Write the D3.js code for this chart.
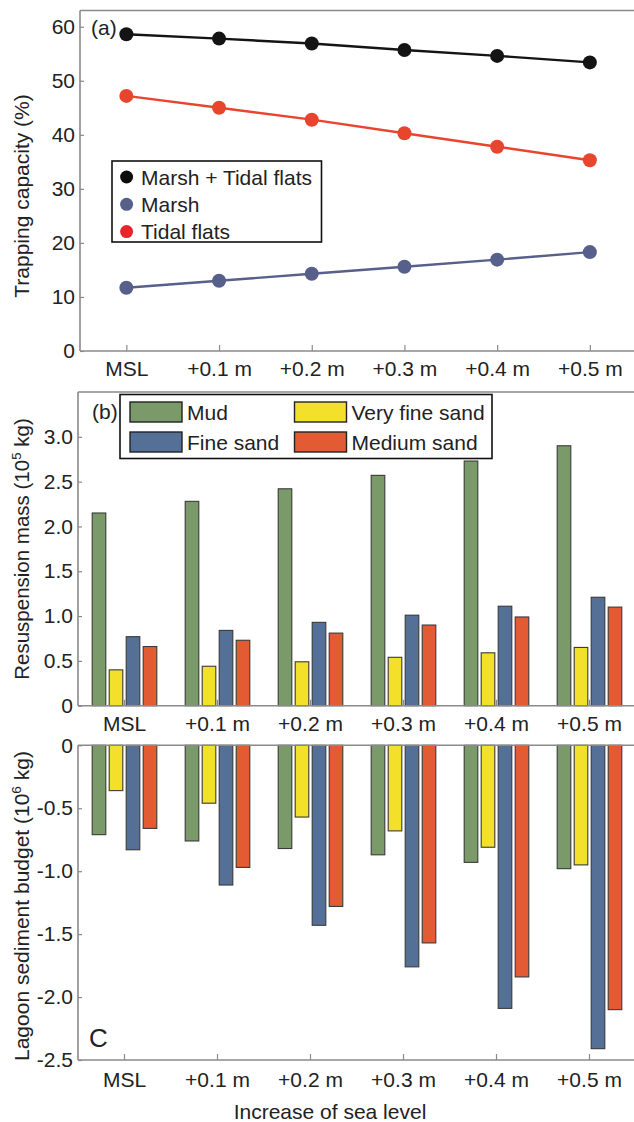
<!DOCTYPE html>
<html>
<head>
<meta charset="utf-8">
<script src="https://cdn.jsdelivr.net/npm/d3@7"></script>
<style>
    body { margin: 0; background: #fff; }
    svg text { font-family: "Liberation Sans", Arial, sans-serif; fill: #222; }
</style>
</head>
<body>
<div id="chart"></div>
<script>
const levels = ["MSL", "+0.1 m", "+0.2 m", "+0.3 m", "+0.4 m", "+0.5 m"];

// (a) trapping capacity, %
const marshTidal = [58.6, 57.8, 56.9, 55.7, 54.6, 53.4];
const marsh = [11.7, 13.0, 14.3, 15.6, 16.9, 18.3];
const tidalFlats = [47.2, 45.0, 42.8, 40.3, 37.8, 35.3];
const capacityTicks = [0, 10, 20, 30, 40, 50, 60];

// (b) resuspension mass, 10^5 kg
const sediments = ["Mud", "Very fine sand", "Fine sand", "Medium sand"];
const resusMud = [2.15, 2.28, 2.42, 2.57, 2.73, 2.90];
const resusVeryFine = [0.40, 0.44, 0.49, 0.54, 0.59, 0.65];
const resusFine = [0.77, 0.84, 0.93, 1.01, 1.11, 1.21];
const resusMedium = [0.66, 0.73, 0.81, 0.90, 0.99, 1.10];
const resusTicks = [0, 0.5, 1.0, 1.5, 2.0, 2.5, 3.0];

// (c) lagoon sediment budget, 10^6 kg
const budgetMud = [-0.71, -0.76, -0.82, -0.87, -0.93, -0.98];
const budgetVeryFine = [-0.36, -0.46, -0.57, -0.68, -0.81, -0.95];
const budgetFine = [-0.83, -1.11, -1.43, -1.76, -2.09, -2.41];
const budgetMedium = [-0.66, -0.97, -1.28, -1.57, -1.84, -2.10];
const budgetTicks = [0, -0.5, -1.0, -1.5, -2.0, -2.5];

const width = 634;
const height = 1122;
const axisColor = "#8a8a8a";
const sedColors = ["#7a9b69", "#f3e02b", "#557097", "#e35b32"];

const svg = d3.select("#chart")
    .append("svg")
    .attr("width", width)
    .attr("height", height);

function styleAxis(g) {
    g.select(".domain").remove();
    g.selectAll(".tick line").attr("stroke", axisColor).attr("stroke-width", 1.2);
    g.selectAll(".tick text").attr("font-size", 21).attr("fill", "#222");
}

function frameLine(x1, y1, x2, y2) {
    svg.append("line")
        .attr("x1", x1).attr("y1", y1).attr("x2", x2).attr("y2", y2)
        .attr("stroke", axisColor)
        .attr("stroke-width", 1.6);
}

function yTitle(x, y, size, main, sup, tail) {
    const t = svg.append("text")
        .attr("transform", `translate(${x},${y}) rotate(-90)`)
        .attr("text-anchor", "middle")
        .attr("font-size", size)
        .text(main);
    if (sup) {
        t.append("tspan").attr("font-size", size * 0.65).attr("dy", -size * 0.4).text(sup);
        t.append("tspan").attr("dy", size * 0.4).text(tail);
    }
}

const tickFmt = d => d === 0 ? "0" : d.toFixed(1);

// ---------- panel (a) ----------
const ax0 = 80, aTop = 10.5, aBottom = 351;
const xA = d3.scalePoint()
    .domain(levels)
    .range([ax0, ax0 + 6 * 92.7])
    .padding(0.5);
const yA = d3.scaleLinear().domain([0, 63]).range([aBottom, aTop]);

svg.append("g")
    .attr("transform", `translate(0,${aBottom})`)
    .call(d3.axisBottom(xA).tickSize(-6).tickPadding(10))
    .call(styleAxis);
svg.append("g")
    .attr("transform", `translate(${ax0},0)`)
    .call(d3.axisLeft(yA).tickValues(capacityTicks).tickSize(-4).tickPadding(5))
    .call(styleAxis);

frameLine(ax0, aTop, width, aTop);
frameLine(ax0, aTop, ax0, aBottom);
frameLine(ax0, aBottom, width, aBottom);

const capSeries = [
    { name: "Marsh + Tidal flats", values: marshTidal, color: "#141414", key: "#0d0d0d" },
    { name: "Marsh", values: marsh, color: "#56608a", key: "#56608a" },
    { name: "Tidal flats", values: tidalFlats, color: "#e8452f", key: "#e8262a" }
];

const line = d3.line()
    .x((d, i) => xA(levels[i]))
    .y(d => yA(d));

capSeries.forEach(s => {
    svg.append("path")
        .attr("d", line(s.values))
        .attr("fill", "none")
        .attr("stroke", s.color)
        .attr("stroke-width", 2.4);
    svg.selectAll(null)
        .data(s.values)
        .enter()
        .append("circle")
        .attr("cx", (d, i) => xA(levels[i]))
        .attr("cy", d => yA(d))
        .attr("r", 7)
        .attr("fill", s.color);
});

svg.append("text")
    .attr("x", 91).attr("y", 35)
    .attr("font-size", 21)
    .text("(a)");

// legend (a)
const legA = svg.append("g").attr("transform", "translate(112,161)");
legA.append("rect")
    .attr("width", 209.5).attr("height", 81)
    .attr("fill", "#fff").attr("stroke", "#111").attr("stroke-width", 1.6);
capSeries.forEach((s, i) => {
    const ly = 16 + i * 27.3;
    legA.append("circle").attr("cx", 14.6).attr("cy", ly).attr("r", 6.5).attr("fill", s.key);
    legA.append("text").attr("x", 29).attr("y", ly + 7.5).attr("font-size", 21).text(s.name);
});

yTitle(29, 196, 21, "Trapping capacity (%)");

// ---------- shared band scales for (b) and (c) ----------
const bx0 = 78, step = 93;
const xB = d3.scaleBand().domain(levels).range([bx0, bx0 + 6 * step]);
const xSub = d3.scaleBand().domain(sediments).range([-34, 34]).paddingInner(0.2).paddingOuter(0.1);

function drawBars(series, yScale) {
    const rows = [];
    levels.forEach((lv, i) => {
        series.forEach((vals, j) => rows.push({ level: lv, sed: sediments[j], value: vals[i], k: j }));
    });
    svg.append("g")
        .selectAll("rect")
        .data(rows)
        .enter()
        .append("rect")
        .attr("x", d => xB(d.level) + xB.bandwidth() / 2 + xSub(d.sed))
        .attr("y", d => Math.min(yScale(d.value), yScale(0)))
        .attr("width", xSub.bandwidth())
        .attr("height", d => Math.abs(yScale(d.value) - yScale(0)))
        .attr("fill", d => sedColors[d.k])
        .attr("stroke", "#3a3a3a")
        .attr("stroke-width", 1.1);
}

// ---------- panel (b) ----------
const bTop = 392, bBottom = 705.7;
const yB = d3.scaleLinear().domain([0, 3.5]).range([bBottom, bTop]);

svg.append("g")
    .attr("transform", `translate(0,${bBottom})`)
    .call(d3.axisBottom(xB).tickSize(-6).tickPadding(10))
    .call(styleAxis);
svg.append("g")
    .attr("transform", `translate(${bx0},0)`)
    .call(d3.axisLeft(yB).tickValues(resusTicks).tickFormat(tickFmt).tickSize(-4).tickPadding(5))
    .call(styleAxis);

drawBars([resusMud, resusVeryFine, resusFine, resusMedium], yB);

frameLine(bx0, bTop, width, bTop);
frameLine(bx0, bTop, bx0, bBottom);
frameLine(bx0, bBottom, width, bBottom);

svg.append("text")
    .attr("x", 92).attr("y", 419)
    .attr("font-size", 21)
    .text("(b)");

// legend (b)
const legB = svg.append("g").attr("transform", "translate(120,394.5)");
legB.append("rect")
    .attr("width", 372).attr("height", 64)
    .attr("fill", "#fff").attr("stroke", "#111").attr("stroke-width", 1.6);
sediments.forEach((s, i) => {
    const col = i % 2, row = Math.floor(i / 2);
    const lx = 10 + col * 164.5;
    const ly = 7.5 + row * 30;
    legB.append("rect")
        .attr("x", lx).attr("y", ly)
        .attr("width", 52).attr("height", 20)
        .attr("fill", sedColors[i]).attr("stroke", "#222").attr("stroke-width", 1.4);
    legB.append("text").attr("x", lx + 57).attr("y", ly + 17.5).attr("font-size", 21).text(s);
});

yTitle(29, 549, 20.5, "Resuspension mass (10", "5", " kg)");

// ---------- panel (c) ----------
const cTop = 745.3, cBottom = 1060;
const yC = d3.scaleLinear().domain([-2.5, 0]).range([cBottom, cTop]);

svg.append("g")
    .attr("transform", `translate(0,${cBottom})`)
    .call(d3.axisBottom(xB).tickSize(-6).tickPadding(12))
    .call(styleAxis);
svg.append("g")
    .attr("transform", `translate(${bx0},0)`)
    .call(d3.axisLeft(yC).tickValues(budgetTicks).tickFormat(tickFmt).tickSize(-4).tickPadding(5))
    .call(styleAxis);

drawBars([budgetMud, budgetVeryFine, budgetFine, budgetMedium], yC);

frameLine(bx0, cTop, width, cTop);
frameLine(bx0, cTop, bx0, cBottom);
frameLine(bx0, cBottom, width, cBottom);

svg.append("text")
    .attr("x", 89).attr("y", 1046.5)
    .attr("font-size", 26)
    .text("C");

yTitle(29, 906, 21, "Lagoon sediment budget (10", "6", " kg)");

svg.append("text")
    .attr("x", 330).attr("y", 1119)
    .attr("text-anchor", "middle")
    .attr("font-size", 21)
    .text("Increase of sea level");
</script>
</body>
</html>
